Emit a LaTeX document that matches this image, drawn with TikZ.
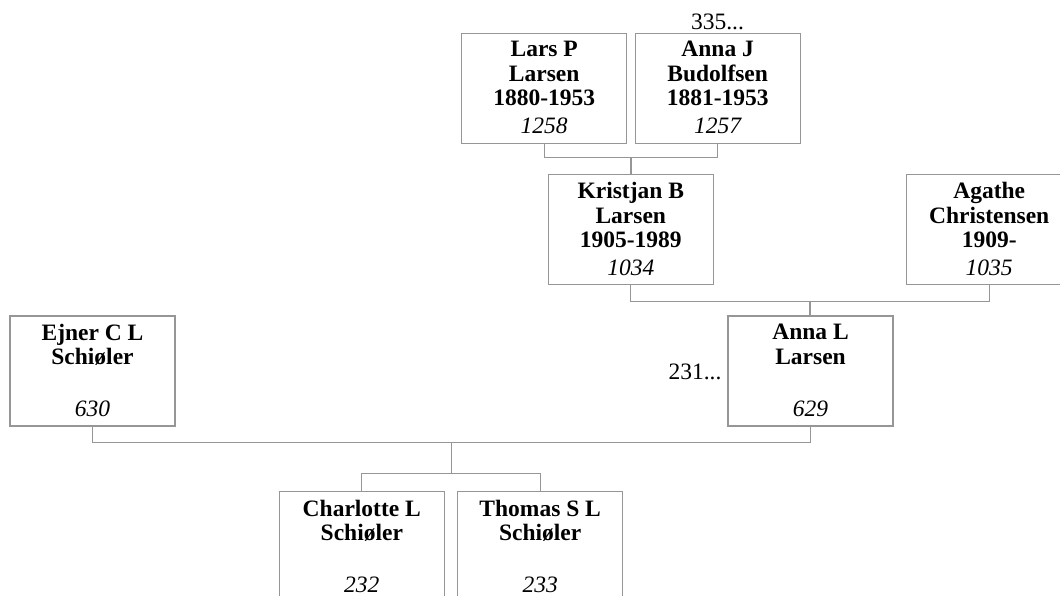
\documentclass[tikz,border=0pt]{standalone}
\usepackage{fontspec}
\setmainfont{Liberation Serif}
\usetikzlibrary{calc}
\definecolor{linegray}{RGB}{150,150,150}
\begin{document}
\begin{tikzpicture}[x=1pt,y=-1pt,
  person/.style={draw=linegray, line width=1.2pt, minimum width=165pt, minimum height=110pt, inner sep=0pt, fill=white},
  nm/.style={anchor=north, inner sep=0pt, align=center, font=\fontsize{23.5}{24.5}\selectfont\bfseries},
  num/.style={anchor=base, inner sep=0pt, font=\fontsize{23.5}{24.5}\selectfont\itshape},
  note/.style={inner sep=0pt, font=\fontsize{23.5}{24.5}\selectfont},
  link/.style={draw=linegray, line width=1.2pt}]
\useasboundingbox (0,0) rectangle (1060,596);
\clip (0,0) rectangle (1060,596);

% boxes
\node[person] (lars)      at (544.2,88.3)  {};
\node[person] (annaj)     at (717.7,88.3)  {};
\node[person] (kristjan)  at (630.8,229.5) {};
\node[person] (agathe)    at (989.2,229.5) {};
\node[person] (ejner)     at (92.5,371)    {};
\node[person] (annal)     at (810.5,371)   {};
\node[person] (charlotte) at (361.8,546.7) {};
\node[person] (thomas)    at (540.2,546.7) {};

% names
\node[nm] (larsN)      at ([yshift=-8.5pt]lars.north)      {Lars P\\Larsen\\1880-1953};
\node[nm] (annajN)     at ([yshift=-8.5pt]annaj.north)     {Anna J\\Budolfsen\\1881-1953};
\node[nm] (kristjanN)  at ([yshift=-8.5pt]kristjan.north)  {Kristjan B\\Larsen\\1905-1989};
\node[nm] (agatheN)    at ([yshift=-8.5pt]agathe.north)    {Agathe\\Christensen\\1909-};
\node[nm] (ejnerN)     at ([yshift=-8.5pt]ejner.north)     {Ejner C L\\Schiøler};
\node[nm] (annalN)     at ([yshift=-8.5pt]annal.north)     {Anna L\\Larsen};
\node[nm] (charlotteN) at ([yshift=-8.5pt]charlotte.north) {Charlotte L\\Schiøler};
\node[nm] (thomasN)    at ([yshift=-8.5pt]thomas.north)    {Thomas S L\\Schiøler};

% numbers
\node[num] (larsI)      at ([yshift=10pt]lars.south)      {1258};
\node[num] (annajI)     at ([yshift=10pt]annaj.south)     {1257};
\node[num] (kristjanI)  at ([yshift=10pt]kristjan.south)  {1034};
\node[num] (agatheI)    at ([yshift=10pt]agathe.south)    {1035};
\node[num] (ejnerI)     at ([yshift=10pt]ejner.south)     {630};
\node[num] (annalI)     at ([yshift=10pt]annal.south)     {629};
\node[num] (charlotteI) at ([yshift=10pt]charlotte.south) {232};
\node[num] (thomasI)    at ([yshift=10pt]thomas.south)    {233};

% notes
\node[note] (more1) at (717.5,21.5) {335...};
\node[note] (more2) at (695,372)    {231...};

% connectors
\draw[link] (lars.south) -- ++(0,13.4) -| (annaj.south);
\coordinate (p1) at ($(lars.south)!0.5!(annaj.south)+(0,13.4)$);
\draw[link] (p1) -- (p1 |- kristjan.north);

\draw[link] (kristjan.south) -- ++(0,16) -| (agathe.south);
\coordinate (p2) at ($(kristjan.south)!0.5!(agathe.south)+(0,16)$);
\draw[link] (p2) -- (p2 |- annal.north);

\draw[link] (ejner.south) -- ++(0,15.7) -| (annal.south);
\coordinate (p3) at ($(ejner.south)!0.5!(annal.south)+(0,15.7)$);
\coordinate (kids) at ($(charlotte.north)+(0,-17.4)$);
\draw[link] (p3) -- (p3 |- kids);
\draw[link] (charlotte.north) -- (kids) -| (thomas.north);
\end{tikzpicture}
\end{document}
